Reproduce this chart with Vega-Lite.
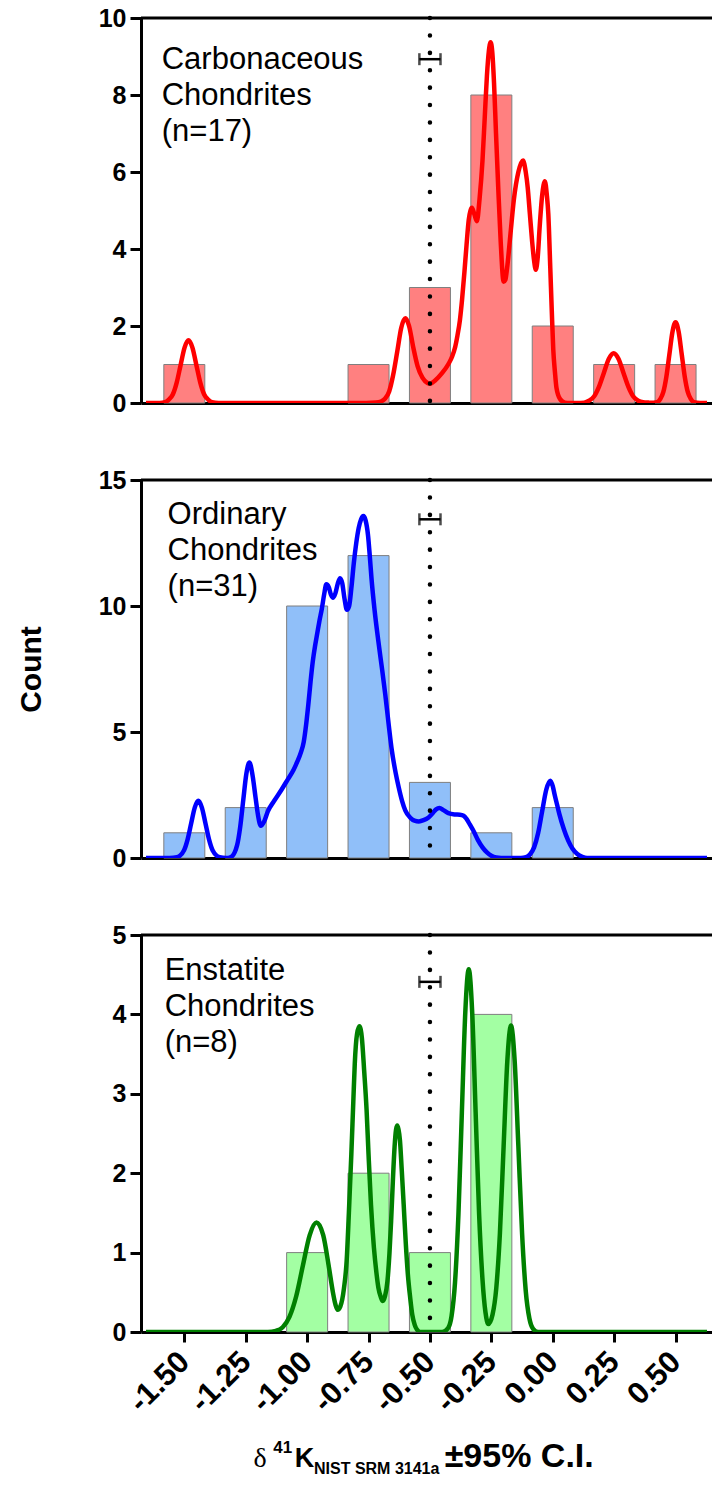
{
  "$schema": "https://vega.github.io/schema/vega-lite/v6.json",
  "padding": {"left": 16, "top": 6, "right": 0, "bottom": 5},
  "background": "white",
  "spacing": 77,
  "bounds": "flush",
  "config": {
    "view": {"stroke": null},
    "axis": {"domainColor": "black", "tickColor": "black", "labelColor": "black", "titleColor": "black", "grid": false, "labelFont": "Liberation Sans", "titleFont": "Liberation Sans"}
  },
  "datasets": {
    "bars": [
      {"g": "C", "x": -1.5, "count": 1}, {"g": "C", "x": -0.75, "count": 1}, {"g": "C", "x": -0.5, "count": 3}, {"g": "C", "x": -0.25, "count": 8}, {"g": "C", "x": 0, "count": 2}, {"g": "C", "x": 0.25, "count": 1}, {"g": "C", "x": 0.5, "count": 1},
      {"g": "O", "x": -1.5, "count": 1}, {"g": "O", "x": -1.25, "count": 2}, {"g": "O", "x": -1.0, "count": 10}, {"g": "O", "x": -0.75, "count": 12}, {"g": "O", "x": -0.5, "count": 3}, {"g": "O", "x": -0.25, "count": 1}, {"g": "O", "x": 0, "count": 2},
      {"g": "E", "x": -1.0, "count": 1}, {"g": "E", "x": -0.75, "count": 2}, {"g": "E", "x": -0.5, "count": 1}, {"g": "E", "x": -0.25, "count": 4}
    ],
    "ci": [
      {"g": "C", "mean": -0.5, "lo": -0.543, "hi": -0.457, "y": 8.93},
      {"g": "O", "mean": -0.5, "lo": -0.543, "hi": -0.457, "y": 13.44},
      {"g": "E", "mean": -0.5, "lo": -0.543, "hi": -0.457, "y": 4.41}
    ],
    "labels": [
      {"g": "C", "text": "Carbonaceous\nChondrites\n(n=17)"},
      {"g": "O", "text": "Ordinary\nChondrites\n(n=31)"},
      {"g": "E", "text": "Enstatite\nChondrites\n(n=8)"}
    ],
    "xtitle": [
      {"part": "delta", "text": "δ"},
      {"part": "sup", "text": "41"},
      {"part": "k", "text": "K"},
      {"part": "sub", "text": "NIST SRM 3141a"},
      {"part": "ci", "text": "±95% C.I."}
    ],
    "kde": [
      {"g":"C","x":-1.656,"y":0},{"g":"C","x":-1.6,"y":0},{"g":"C","x":-1.579,"y":0.02},{"g":"C","x":-1.563,"y":0.09},{"g":"C","x":-1.547,"y":0.22},{"g":"C","x":-1.531,"y":0.53},{"g":"C","x":-1.515,"y":0.99},{"g":"C","x":-1.499,"y":1.44},{"g":"C","x":-1.483,"y":1.63},{"g":"C","x":-1.467,"y":1.44},{"g":"C","x":-1.451,"y":0.99},{"g":"C","x":-1.435,"y":0.53},{"g":"C","x":-1.419,"y":0.22},{"g":"C","x":-1.403,"y":0.09},{"g":"C","x":-1.387,"y":0.02},{"g":"C","x":-1.36,"y":0},
      {"g":"C","x":-0.76,"y":0},{"g":"C","x":-0.72,"y":0.01},{"g":"C","x":-0.699,"y":0.04},{"g":"C","x":-0.682,"y":0.12},{"g":"C","x":-0.666,"y":0.3},{"g":"C","x":-0.65,"y":0.72},{"g":"C","x":-0.633,"y":1.34},{"g":"C","x":-0.617,"y":1.95},{"g":"C","x":-0.6,"y":2.2},{"g":"C","x":-0.585,"y":2.0},{"g":"C","x":-0.568,"y":1.45},{"g":"C","x":-0.55,"y":0.95},{"g":"C","x":-0.53,"y":0.65},{"g":"C","x":-0.51,"y":0.52},{"g":"C","x":-0.498,"y":0.5},{"g":"C","x":-0.48,"y":0.58},{"g":"C","x":-0.45,"y":0.78},{"g":"C","x":-0.424,"y":1.02},{"g":"C","x":-0.41,"y":1.2},{"g":"C","x":-0.397,"y":1.46},{"g":"C","x":-0.388,"y":1.75},{"g":"C","x":-0.378,"y":2.15},{"g":"C","x":-0.369,"y":2.7},{"g":"C","x":-0.36,"y":3.37},{"g":"C","x":-0.351,"y":4.1},{"g":"C","x":-0.342,"y":4.76},{"g":"C","x":-0.335,"y":5.0},{"g":"C","x":-0.329,"y":5.07},{"g":"C","x":-0.319,"y":4.9},{"g":"C","x":-0.309,"y":4.72},{"g":"C","x":-0.298,"y":5.3},{"g":"C","x":-0.286,"y":6.3},{"g":"C","x":-0.277,"y":7.4},{"g":"C","x":-0.268,"y":8.5},{"g":"C","x":-0.26,"y":9.15},{"g":"C","x":-0.253,"y":9.37},{"g":"C","x":-0.246,"y":9.1},{"g":"C","x":-0.239,"y":8.3},{"g":"C","x":-0.231,"y":7.0},{"g":"C","x":-0.222,"y":5.6},{"g":"C","x":-0.212,"y":4.2},{"g":"C","x":-0.2,"y":3.15},{"g":"C","x":-0.193,"y":3.2},{"g":"C","x":-0.186,"y":3.5},{"g":"C","x":-0.172,"y":4.4},{"g":"C","x":-0.158,"y":5.3},{"g":"C","x":-0.14,"y":6.0},{"g":"C","x":-0.121,"y":6.3},{"g":"C","x":-0.11,"y":6.0},{"g":"C","x":-0.102,"y":5.6},{"g":"C","x":-0.093,"y":4.9},{"g":"C","x":-0.084,"y":4.2},{"g":"C","x":-0.076,"y":3.7},{"g":"C","x":-0.069,"y":3.46},{"g":"C","x":-0.061,"y":3.8},{"g":"C","x":-0.053,"y":4.6},{"g":"C","x":-0.043,"y":5.4},{"g":"C","x":-0.032,"y":5.76},{"g":"C","x":-0.024,"y":5.4},{"g":"C","x":-0.018,"y":4.9},{"g":"C","x":-0.01,"y":3.5},{"g":"C","x":-0.004,"y":2.4},{"g":"C","x":0.002,"y":1.4},{"g":"C","x":0.009,"y":0.8},{"g":"C","x":0.015,"y":0.4},{"g":"C","x":0.03,"y":0.1},{"g":"C","x":0.05,"y":0.01},{"g":"C","x":0.07,"y":0},{"g":"C","x":0.1,"y":0},
      {"g":"C","x":0.128,"y":0.01},{"g":"C","x":0.148,"y":0.06},{"g":"C","x":0.168,"y":0.17},{"g":"C","x":0.188,"y":0.42},{"g":"C","x":0.208,"y":0.78},{"g":"C","x":0.228,"y":1.14},{"g":"C","x":0.248,"y":1.29},{"g":"C","x":0.268,"y":1.14},{"g":"C","x":0.288,"y":0.78},{"g":"C","x":0.308,"y":0.42},{"g":"C","x":0.328,"y":0.17},{"g":"C","x":0.348,"y":0.06},{"g":"C","x":0.368,"y":0.02},{"g":"C","x":0.39,"y":0.01},{"g":"C","x":0.41,"y":0.005},{"g":"C","x":0.425,"y":0.02},{"g":"C","x":0.4375,"y":0.1},{"g":"C","x":0.45,"y":0.28},{"g":"C","x":0.4625,"y":0.68},{"g":"C","x":0.475,"y":1.27},{"g":"C","x":0.4875,"y":1.85},{"g":"C","x":0.5,"y":2.1},{"g":"C","x":0.5125,"y":1.85},{"g":"C","x":0.525,"y":1.27},{"g":"C","x":0.5375,"y":0.68},{"g":"C","x":0.55,"y":0.28},{"g":"C","x":0.5625,"y":0.1},{"g":"C","x":0.575,"y":0.02},{"g":"C","x":0.6,"y":0},{"g":"C","x":0.628,"y":0},

      {"g":"O","x":-1.656,"y":0},{"g":"O","x":-1.56,"y":0},{"g":"O","x":-1.53,"y":0.03},{"g":"O","x":-1.501,"y":0.31},{"g":"O","x":-1.4865,"y":0.74},{"g":"O","x":-1.472,"y":1.38},{"g":"O","x":-1.4575,"y":2.0},{"g":"O","x":-1.443,"y":2.27},{"g":"O","x":-1.4285,"y":2.0},{"g":"O","x":-1.414,"y":1.38},{"g":"O","x":-1.3995,"y":0.74},{"g":"O","x":-1.385,"y":0.31},{"g":"O","x":-1.356,"y":0.03},{"g":"O","x":-1.33,"y":0},
      {"g":"O","x":-1.31,"y":0.04},{"g":"O","x":-1.285,"y":0.51},{"g":"O","x":-1.2725,"y":1.23},{"g":"O","x":-1.26,"y":2.3},{"g":"O","x":-1.2475,"y":3.34},{"g":"O","x":-1.235,"y":3.79},{"g":"O","x":-1.2225,"y":3.3},{"g":"O","x":-1.21,"y":2.4},{"g":"O","x":-1.2,"y":1.7},{"g":"O","x":-1.189,"y":1.28},{"g":"O","x":-1.175,"y":1.45},{"g":"O","x":-1.16,"y":1.85},{"g":"O","x":-1.134,"y":2.27},{"g":"O","x":-1.105,"y":2.7},{"g":"O","x":-1.078,"y":3.13},{"g":"O","x":-1.055,"y":3.5},{"g":"O","x":-1.041,"y":3.8},{"g":"O","x":-1.025,"y":4.2},{"g":"O","x":-1.014,"y":4.6},{"g":"O","x":-1.004,"y":5.3},{"g":"O","x":-0.995,"y":6.1},{"g":"O","x":-0.986,"y":7.0},{"g":"O","x":-0.977,"y":7.8},{"g":"O","x":-0.968,"y":8.4},{"g":"O","x":-0.959,"y":8.9},{"g":"O","x":-0.95,"y":9.4},{"g":"O","x":-0.94,"y":9.9},{"g":"O","x":-0.93,"y":10.5},{"g":"O","x":-0.922,"y":10.86},{"g":"O","x":-0.912,"y":10.75},{"g":"O","x":-0.903,"y":10.45},{"g":"O","x":-0.894,"y":10.33},{"g":"O","x":-0.885,"y":10.5},{"g":"O","x":-0.875,"y":10.9},{"g":"O","x":-0.866,"y":11.1},{"g":"O","x":-0.857,"y":10.9},{"g":"O","x":-0.848,"y":10.3},{"g":"O","x":-0.838,"y":9.85},{"g":"O","x":-0.829,"y":10.0},{"g":"O","x":-0.82,"y":10.7},{"g":"O","x":-0.81,"y":11.7},{"g":"O","x":-0.8,"y":12.5},{"g":"O","x":-0.79,"y":13.1},{"g":"O","x":-0.78,"y":13.45},{"g":"O","x":-0.771,"y":13.57},{"g":"O","x":-0.762,"y":13.4},{"g":"O","x":-0.752,"y":12.8},{"g":"O","x":-0.745,"y":12.0},{"g":"O","x":-0.738,"y":11.1},{"g":"O","x":-0.725,"y":9.8},{"g":"O","x":-0.71,"y":8.6},{"g":"O","x":-0.695,"y":7.5},{"g":"O","x":-0.682,"y":6.5},{"g":"O","x":-0.668,"y":5.3},{"g":"O","x":-0.655,"y":4.26},{"g":"O","x":-0.64,"y":3.4},{"g":"O","x":-0.627,"y":2.8},{"g":"O","x":-0.613,"y":2.25},{"g":"O","x":-0.6,"y":1.88},{"g":"O","x":-0.58,"y":1.6},{"g":"O","x":-0.563,"y":1.48},{"g":"O","x":-0.545,"y":1.45},{"g":"O","x":-0.526,"y":1.5},{"g":"O","x":-0.507,"y":1.6},{"g":"O","x":-0.489,"y":1.78},{"g":"O","x":-0.475,"y":1.93},{"g":"O","x":-0.461,"y":1.98},{"g":"O","x":-0.445,"y":1.9},{"g":"O","x":-0.425,"y":1.78},{"g":"O","x":-0.4,"y":1.73},{"g":"O","x":-0.378,"y":1.72},{"g":"O","x":-0.363,"y":1.68},{"g":"O","x":-0.351,"y":1.55},{"g":"O","x":-0.337,"y":1.32},{"g":"O","x":-0.323,"y":1.08},{"g":"O","x":-0.305,"y":0.72},{"g":"O","x":-0.286,"y":0.42},{"g":"O","x":-0.268,"y":0.22},{"g":"O","x":-0.25,"y":0.09},{"g":"O","x":-0.23,"y":0.02},{"g":"O","x":-0.21,"y":0},
      {"g":"O","x":-0.13,"y":0},{"g":"O","x":-0.109,"y":0.03},{"g":"O","x":-0.092,"y":0.15},{"g":"O","x":-0.076,"y":0.42},{"g":"O","x":-0.0595,"y":0.99},{"g":"O","x":-0.043,"y":1.86},{"g":"O","x":-0.0265,"y":2.71},{"g":"O","x":-0.01,"y":3.07},{"g":"O","x":0.0,"y":2.85},{"g":"O","x":0.008,"y":2.5},{"g":"O","x":0.018,"y":2.1},{"g":"O","x":0.027,"y":1.74},{"g":"O","x":0.045,"y":1.15},{"g":"O","x":0.063,"y":0.69},{"g":"O","x":0.08,"y":0.38},{"g":"O","x":0.1,"y":0.16},{"g":"O","x":0.12,"y":0.05},{"g":"O","x":0.14,"y":0},{"g":"O","x":0.628,"y":0},

      {"g":"E","x":-1.656,"y":0},{"g":"E","x":-1.16,"y":0},{"g":"E","x":-1.127,"y":0.015},{"g":"E","x":-1.0995,"y":0.06},{"g":"E","x":-1.072,"y":0.19},{"g":"E","x":-1.0445,"y":0.45},{"g":"E","x":-1.017,"y":0.84},{"g":"E","x":-0.9895,"y":1.22},{"g":"E","x":-0.962,"y":1.38},{"g":"E","x":-0.9345,"y":1.22},{"g":"E","x":-0.913,"y":0.85},{"g":"E","x":-0.895,"y":0.5},{"g":"E","x":-0.885,"y":0.35},{"g":"E","x":-0.876,"y":0.28},{"g":"E","x":-0.865,"y":0.32},{"g":"E","x":-0.85,"y":0.55},{"g":"E","x":-0.839,"y":0.9},{"g":"E","x":-0.83,"y":1.5},{"g":"E","x":-0.82,"y":2.24},{"g":"E","x":-0.812,"y":2.9},{"g":"E","x":-0.806,"y":3.38},{"g":"E","x":-0.797,"y":3.75},{"g":"E","x":-0.787,"y":3.85},{"g":"E","x":-0.777,"y":3.7},{"g":"E","x":-0.768,"y":3.3},{"g":"E","x":-0.758,"y":2.8},{"g":"E","x":-0.75,"y":2.24},{"g":"E","x":-0.74,"y":1.6},{"g":"E","x":-0.728,"y":1.06},{"g":"E","x":-0.718,"y":0.75},{"g":"E","x":-0.71,"y":0.56},{"g":"E","x":-0.7,"y":0.44},{"g":"E","x":-0.692,"y":0.39},{"g":"E","x":-0.683,"y":0.45},{"g":"E","x":-0.673,"y":0.64},{"g":"E","x":-0.665,"y":0.98},{"g":"E","x":-0.658,"y":1.4},{"g":"E","x":-0.651,"y":1.9},{"g":"E","x":-0.644,"y":2.33},{"g":"E","x":-0.638,"y":2.55},{"g":"E","x":-0.633,"y":2.6},{"g":"E","x":-0.628,"y":2.55},{"g":"E","x":-0.622,"y":2.41},{"g":"E","x":-0.615,"y":2.05},{"g":"E","x":-0.607,"y":1.61},{"g":"E","x":-0.598,"y":1.1},{"g":"E","x":-0.59,"y":0.73},{"g":"E","x":-0.58,"y":0.42},{"g":"E","x":-0.572,"y":0.22},{"g":"E","x":-0.562,"y":0.09},{"g":"E","x":-0.553,"y":0.03},{"g":"E","x":-0.54,"y":0},
      {"g":"E","x":-0.45,"y":0},{"g":"E","x":-0.426,"y":0.05},{"g":"E","x":-0.412,"y":0.2},{"g":"E","x":-0.398,"y":0.62},{"g":"E","x":-0.384,"y":1.48},{"g":"E","x":-0.37,"y":2.77},{"g":"E","x":-0.356,"y":4.03},{"g":"E","x":-0.342,"y":4.57},{"g":"E","x":-0.328,"y":4.03},{"g":"E","x":-0.314,"y":2.77},{"g":"E","x":-0.3,"y":1.5},{"g":"E","x":-0.286,"y":0.66},{"g":"E","x":-0.274,"y":0.25},{"g":"E","x":-0.262,"y":0.1},{"g":"E","x":-0.245,"y":0.22},{"g":"E","x":-0.23,"y":0.55},{"g":"E","x":-0.215,"y":1.25},{"g":"E","x":-0.2,"y":2.34},{"g":"E","x":-0.185,"y":3.41},{"g":"E","x":-0.17,"y":3.86},{"g":"E","x":-0.155,"y":3.41},{"g":"E","x":-0.14,"y":2.34},{"g":"E","x":-0.125,"y":1.25},{"g":"E","x":-0.11,"y":0.52},{"g":"E","x":-0.095,"y":0.17},{"g":"E","x":-0.08,"y":0.04},{"g":"E","x":-0.06,"y":0},{"g":"E","x":0.628,"y":0}
    ]
  },
  "vconcat": [
    {
      "width": 571, "height": 385,
      "layer": [
        {"data": {"name": "bars"}, "transform": [{"filter": "datum.g === 'C'"}],
         "mark": {"type": "bar", "width": 41, "fill": "#FF8080", "stroke": "#7F7F7F", "strokeWidth": 1},
         "encoding": {
           "x": {"field": "x", "type": "quantitative", "scale": {"domain": [-1.656, 0.628], "nice": false, "zero": false},
                 "axis": {"title": null, "labels": false, "ticks": false, "domain": true, "domainWidth": 3}},
           "y": {"field": "count", "type": "quantitative", "scale": {"domain": [0, 10], "nice": false},
                 "axis": {"title": null, "values": [0, 2, 4, 6, 8, 10], "format": "d", "tickSize": 11, "tickWidth": 3, "domainWidth": 3, "labelFontSize": 25, "labelFontWeight": "bold", "labelPadding": 4}}
         }},
        {"data": {"name": "kde"}, "transform": [{"filter": "datum.g === 'C'"}],
         "mark": {"type": "line", "color": "#FF0000", "strokeWidth": 4.5, "interpolate": "monotone", "clip": true},
         "encoding": {"x": {"field": "x", "type": "quantitative"}, "y": {"field": "y", "type": "quantitative"}}},
        {"data": {"name": "ci"}, "transform": [{"filter": "datum.g === 'C'"}],
         "mark": {"type": "rule", "color": "black", "strokeWidth": 4.5, "strokeDash": [0.1, 17.3], "strokeCap": "round"},
         "encoding": {"x": {"field": "mean", "type": "quantitative"}}},
        {"data": {"name": "ci"}, "transform": [{"filter": "datum.g === 'C'"}],
         "mark": {"type": "errorbar", "color": "black", "ticks": {"size": 12, "thickness": 2.5}, "rule": {"strokeWidth": 2.5}},
         "encoding": {"x": {"field": "lo", "type": "quantitative"}, "x2": {"field": "hi"}, "y": {"field": "y", "type": "quantitative"}}},
        {"data": {"name": "ci"}, "transform": [{"filter": "datum.g === 'C'"}],
         "mark": {"type": "rule", "color": "black", "strokeWidth": 3},
         "encoding": {"y": {"datum": 10}}},
        {"data": {"name": "labels"}, "transform": [{"filter": "datum.g === 'C'"}],
         "mark": {"type": "text", "align": "left", "baseline": "alphabetic", "font": "Liberation Sans", "fontSize": 31, "lineBreak": "\n", "lineHeight": 36, "color": "black"},
         "encoding": {"x": {"datum": -1.592}, "y": {"datum": 8.68}, "text": {"field": "text"}}}
      ]
    },
    {
      "width": 571, "height": 378,
      "layer": [
        {"data": {"name": "bars"}, "transform": [{"filter": "datum.g === 'O'"}],
         "mark": {"type": "bar", "width": 41, "fill": "#90BFF9", "stroke": "#7F7F7F", "strokeWidth": 1},
         "encoding": {
           "x": {"field": "x", "type": "quantitative", "scale": {"domain": [-1.656, 0.628], "nice": false, "zero": false},
                 "axis": {"title": null, "labels": false, "ticks": false, "domain": true, "domainWidth": 3}},
           "y": {"field": "count", "type": "quantitative", "scale": {"domain": [0, 15], "nice": false},
                 "axis": {"title": "Count", "titleFontSize": 30, "titleFontWeight": "bold", "titlePadding": 52, "values": [0, 5, 10, 15], "format": "d", "tickSize": 11, "tickWidth": 3, "domainWidth": 3, "labelFontSize": 25, "labelFontWeight": "bold", "labelPadding": 4}}
         }},
        {"data": {"name": "kde"}, "transform": [{"filter": "datum.g === 'O'"}],
         "mark": {"type": "line", "color": "#0000FF", "strokeWidth": 4.5, "interpolate": "monotone", "clip": true},
         "encoding": {"x": {"field": "x", "type": "quantitative"}, "y": {"field": "y", "type": "quantitative"}}},
        {"data": {"name": "ci"}, "transform": [{"filter": "datum.g === 'O'"}],
         "mark": {"type": "rule", "color": "black", "strokeWidth": 4.5, "strokeDash": [0.1, 17.3], "strokeCap": "round"},
         "encoding": {"x": {"field": "mean", "type": "quantitative"}}},
        {"data": {"name": "ci"}, "transform": [{"filter": "datum.g === 'O'"}],
         "mark": {"type": "errorbar", "color": "black", "ticks": {"size": 12, "thickness": 2.5}, "rule": {"strokeWidth": 2.5}},
         "encoding": {"x": {"field": "lo", "type": "quantitative"}, "x2": {"field": "hi"}, "y": {"field": "y", "type": "quantitative"}}},
        {"data": {"name": "ci"}, "transform": [{"filter": "datum.g === 'O'"}],
         "mark": {"type": "rule", "color": "black", "strokeWidth": 3},
         "encoding": {"y": {"datum": 15}}},
        {"data": {"name": "labels"}, "transform": [{"filter": "datum.g === 'O'"}],
         "mark": {"type": "text", "align": "left", "baseline": "alphabetic", "font": "Liberation Sans", "fontSize": 31, "lineBreak": "\n", "lineHeight": 36, "color": "black"},
         "encoding": {"x": {"datum": -1.568}, "y": {"datum": 13.25}, "text": {"field": "text"}}}
      ]
    },
    {
      "width": 571, "height": 397,
      "layer": [
        {"data": {"name": "bars"}, "transform": [{"filter": "datum.g === 'E'"}],
         "mark": {"type": "bar", "width": 41, "fill": "#A3FFA3", "stroke": "#7F7F7F", "strokeWidth": 1},
         "encoding": {
           "x": {"field": "x", "type": "quantitative", "scale": {"domain": [-1.656, 0.628], "nice": false, "zero": false},
                 "axis": {"title": null,
                          "values": [-1.5, -1.25, -1.0, -0.75, -0.5, -0.25, 0, 0.25, 0.5],
                          "labelExpr": "datum.value < 0 ? '-' + format(-datum.value, '.2f') : format(datum.value, '.2f')",
                          "labelAngle": -45, "labelAlign": "right", "labelBaseline": "middle", "labelFontSize": 31, "labelFontWeight": "bold", "labelPadding": 15, "labelOverlap": false,
                          "tickSize": 10, "tickWidth": 3, "domainWidth": 3}},
           "y": {"field": "count", "type": "quantitative", "scale": {"domain": [0, 5], "nice": false},
                 "axis": {"title": null, "values": [0, 1, 2, 3, 4, 5], "format": "d", "tickSize": 11, "tickWidth": 3, "domainWidth": 3, "labelFontSize": 25, "labelFontWeight": "bold", "labelPadding": 4}}
         }},
        {"data": {"name": "kde"}, "transform": [{"filter": "datum.g === 'E'"}],
         "mark": {"type": "line", "color": "#008000", "strokeWidth": 4.5, "interpolate": "monotone", "clip": true},
         "encoding": {"x": {"field": "x", "type": "quantitative"}, "y": {"field": "y", "type": "quantitative"}}},
        {"data": {"name": "ci"}, "transform": [{"filter": "datum.g === 'E'"}],
         "mark": {"type": "rule", "color": "black", "strokeWidth": 4.5, "strokeDash": [0.1, 17.3], "strokeCap": "round"},
         "encoding": {"x": {"field": "mean", "type": "quantitative"}}},
        {"data": {"name": "ci"}, "transform": [{"filter": "datum.g === 'E'"}],
         "mark": {"type": "errorbar", "color": "black", "ticks": {"size": 12, "thickness": 2.5}, "rule": {"strokeWidth": 2.5}},
         "encoding": {"x": {"field": "lo", "type": "quantitative"}, "x2": {"field": "hi"}, "y": {"field": "y", "type": "quantitative"}}},
        {"data": {"name": "ci"}, "transform": [{"filter": "datum.g === 'E'"}],
         "mark": {"type": "rule", "color": "black", "strokeWidth": 3},
         "encoding": {"y": {"datum": 5}}},
        {"data": {"name": "labels"}, "transform": [{"filter": "datum.g === 'E'"}],
         "mark": {"type": "text", "align": "left", "baseline": "alphabetic", "font": "Liberation Sans", "fontSize": 31, "lineBreak": "\n", "lineHeight": 36, "color": "black"},
         "encoding": {"x": {"datum": -1.58}, "y": {"datum": 4.43}, "text": {"field": "text"}}},
        {"data": {"name": "xtitle"}, "transform": [{"filter": "datum.part === 'delta'"}],
         "mark": {"type": "text", "align": "left", "baseline": "alphabetic", "font": "Liberation Serif", "fontSize": 28, "color": "black"},
         "encoding": {"x": {"datum": -1.218}, "y": {"datum": -1.7}, "text": {"field": "text"}}},
        {"data": {"name": "xtitle"}, "transform": [{"filter": "datum.part === 'sup'"}],
         "mark": {"type": "text", "align": "left", "baseline": "alphabetic", "font": "Liberation Sans", "fontWeight": "bold", "fontSize": 17, "color": "black"},
         "encoding": {"x": {"datum": -1.138}, "y": {"datum": -1.53}, "text": {"field": "text"}}},
        {"data": {"name": "xtitle"}, "transform": [{"filter": "datum.part === 'k'"}],
         "mark": {"type": "text", "align": "left", "baseline": "alphabetic", "font": "Liberation Sans", "fontWeight": "bold", "fontSize": 27, "color": "black"},
         "encoding": {"x": {"datum": -1.05}, "y": {"datum": -1.7}, "text": {"field": "text"}}},
        {"data": {"name": "xtitle"}, "transform": [{"filter": "datum.part === 'sub'"}],
         "mark": {"type": "text", "align": "left", "baseline": "alphabetic", "font": "Liberation Sans", "fontWeight": "bold", "fontSize": 16, "color": "black"},
         "encoding": {"x": {"datum": -0.972}, "y": {"datum": -1.788}, "text": {"field": "text"}}},
        {"data": {"name": "xtitle"}, "transform": [{"filter": "datum.part === 'ci'"}],
         "mark": {"type": "text", "align": "left", "baseline": "alphabetic", "font": "Liberation Sans", "fontWeight": "bold", "fontSize": 34, "color": "black"},
         "encoding": {"x": {"datum": -0.44}, "y": {"datum": -1.7}, "text": {"field": "text"}}}
      ]
    }
  ]
}
